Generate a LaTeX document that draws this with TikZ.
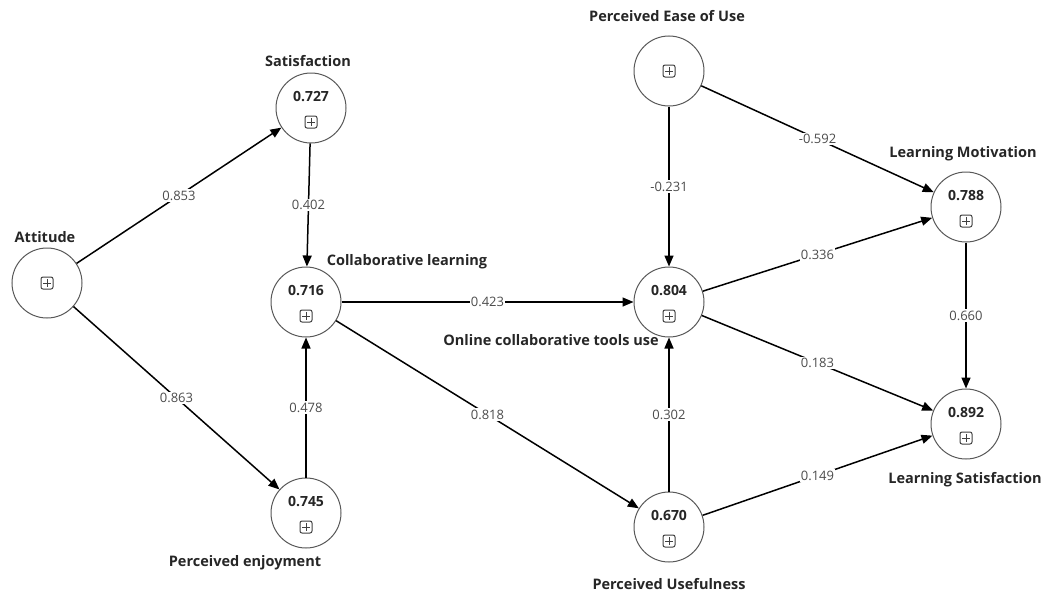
\documentclass[tikz,border=0pt]{standalone}
\usepackage{fontspec}
\setmainfont{Open Sans}
\usetikzlibrary{arrows.meta}
\tikzset{
  icon/.pic={
    \draw[black!75,line width=1pt,rounded corners=2pt] (-6,-6) rectangle (6,6);
    \draw[black!75,line width=1pt] (-4,0) -- (4,0) (0,-4) -- (0,4);
  }
}
\begin{document}
\begin{tikzpicture}[x=1pt,y=-1pt,
  lv/.style={circle,draw=black!65,line width=1pt,minimum size=70pt,inner sep=0pt,fill=white},
  nlabel/.style={font=\bfseries\fontsize{14.5}{16}\selectfont,text=black!85,inner sep=0pt},
  val/.style={font=\bfseries\fontsize{14}{16}\selectfont,text=black!85,inner sep=0pt},
  arr/.style={-{Triangle[length=11pt,width=9pt]},line width=1.5pt,black},
  coef/.style={fill=white,font=\fontsize{13}{15}\selectfont,text=black!70,inner sep=1.2pt}]
\fill[white] (0,0) rectangle (1045,597);
\useasboundingbox (0,0) rectangle (1045,597);

% latent variables
\node[lv] (att) at (47,283) {};
\node[lv] (sat) at (311,108) {};
\node[lv] (col) at (306,302) {};
\node[lv] (enj) at (306,513) {};
\node[lv] (onl) at (669,302) {};
\node[lv] (peou) at (669,71) {};
\node[lv] (pu) at (669,527) {};
\node[lv] (lm) at (966,207) {};
\node[lv] (ls) at (966,424) {};

% icons
\pic at (att.center) {icon};
\pic at (peou.center) {icon};
\foreach \n in {sat,col,enj,onl,pu,lm,ls}{\pic at ([yshift=-14pt]\n.center) {icon};}

% R2 values
\node[val] (satv) at ([yshift=11pt]sat.center) {0.727};
\node[val] (colv) at ([yshift=11pt]col.center) {0.716};
\node[val] (enjv) at ([yshift=11pt]enj.center) {0.745};
\node[val] (onlv) at ([yshift=11pt]onl.center) {0.804};
\node[val] (puv) at ([yshift=11pt]pu.center) {0.670};
\node[val] (lmv) at ([yshift=11pt]lm.center) {0.788};
\node[val] (lsv) at ([yshift=11pt]ls.center) {0.892};

% names
\node[nlabel] (attl) at (45,237) {Attitude};
\node[nlabel] (satl) at (308,61) {Satisfaction};
\node[nlabel] (coll) at (407,262) {Collaborative learning};
\node[nlabel] (enjl) at (245,563) {Perceived enjoyment};
\node[nlabel] (onll) at (551,340) {Online collaborative tools use};
\node[nlabel] (peoul) at (667,16) {Perceived Ease of Use};
\node[nlabel] (pul) at (669,584) {Perceived Usefulness};
\node[nlabel] (lml) at (963,154) {Learning Motivation};
\node[nlabel] (lsl) at (965,480) {Learning Satisfaction};

% paths
\draw[arr] (att) -- node[coef] {0.853} (sat);
\draw[arr] (att) -- node[coef] {0.863} (enj);
\draw[arr] (sat) -- node[coef] {0.402} (col);
\draw[arr] (enj) -- node[coef] {0.478} (col);
\draw[arr] (col) -- node[coef] {0.423} (onl);
\draw[arr] (col) -- node[coef] {0.818} (pu);
\draw[arr] (peou) -- node[coef] {-0.231} (onl);
\draw[arr] (pu) -- node[coef] {0.302} (onl);
\draw[arr] (peou) -- node[coef] {-0.592} (lm);
\draw[arr] (onl) -- node[coef] {0.336} (lm);
\draw[arr] (onl) -- node[coef] {0.183} (ls);
\draw[arr] (pu) -- node[coef] {0.149} (ls);
\draw[arr] (lm) -- node[coef] {0.660} (ls);
\end{tikzpicture}
\end{document}
